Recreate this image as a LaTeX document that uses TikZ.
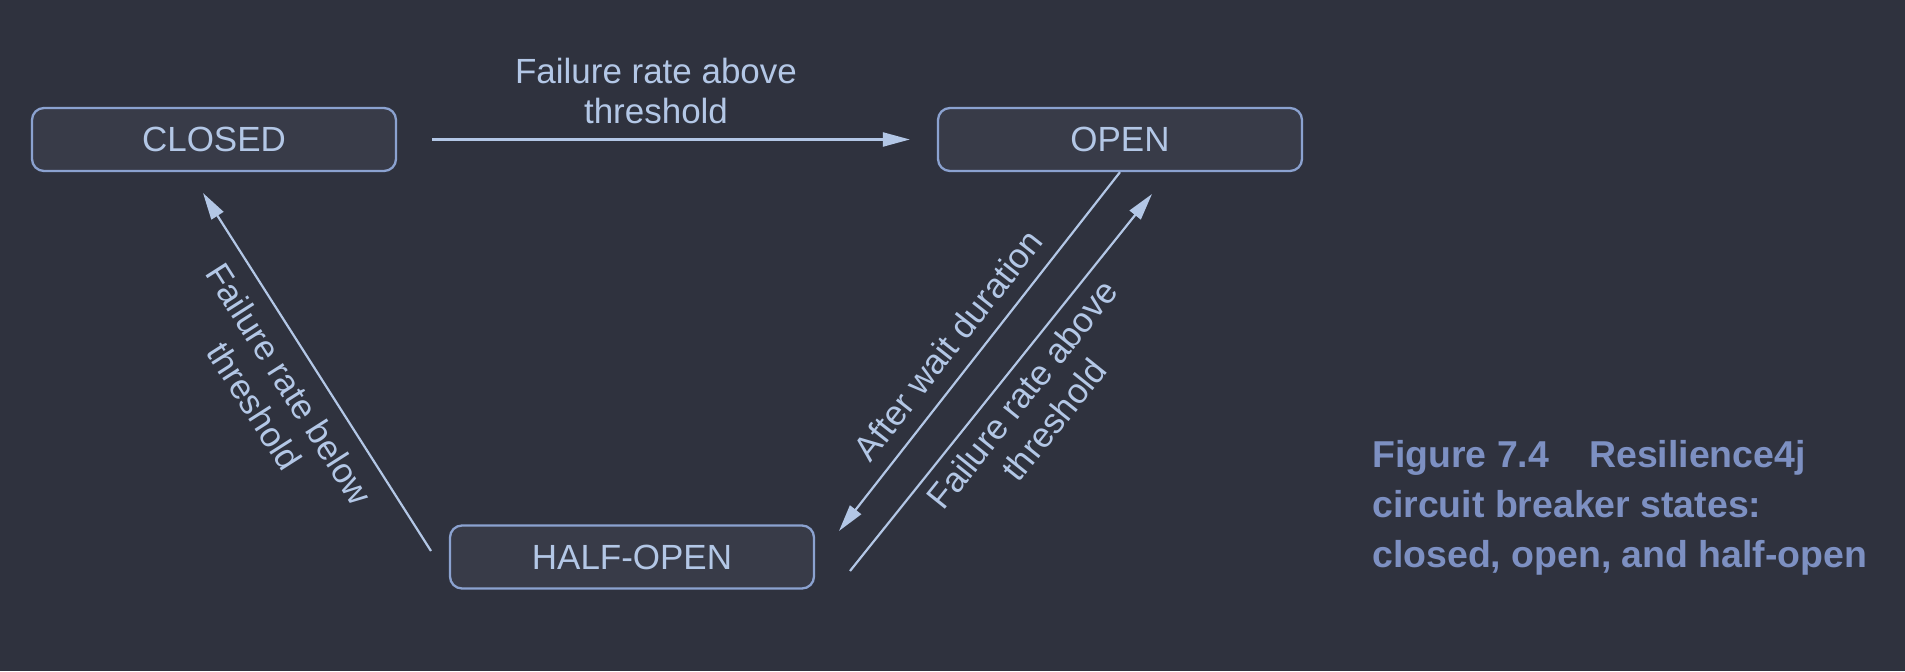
\documentclass[tikz,border=0pt]{standalone}
\usepackage{fontspec}
\setmainfont{Liberation Sans}
\usetikzlibrary{arrows.meta}
\definecolor{bgcol}{HTML}{2F323E}
\definecolor{boxcol}{HTML}{383B48}
\definecolor{linecol}{HTML}{8BA2D0}
\definecolor{txtcol}{HTML}{B3C7E6}
\definecolor{capcol}{HTML}{7D90C2}
\tikzset{state/.style={draw=linecol, fill=boxcol, line width=1.3pt, rounded corners=0.24cm,
        minimum width=7.28cm, minimum height=1.26cm, inner sep=0mm, text=txtcol,
        font=\fontsize{19.9}{23.3}\selectfont}}
\tikzset{trans/.style={draw=txtcol, line width=1.25pt, -{Triangle[length=0.54cm, width=0.28cm]}}}
\tikzset{lbl/.style={text=txtcol, align=center, inner sep=0mm, font=\fontsize{19.9}{23.3}\selectfont}}

\begin{document}
\begin{tikzpicture}
    \fill[bgcol] (0cm, 0cm) rectangle (38.1cm, 13.42cm);
    \useasboundingbox (0cm, 0cm) rectangle (38.1cm, 13.42cm);

    \node (closed) at (4.28cm, 10.63cm) [state] {CLOSED};
    \node (open) at (22.4cm, 10.63cm) [state] {OPEN};
    \node (half) at (12.64cm, 2.28cm) [state] {HALF-OPEN};

    \coordinate (halfin) at (16.78cm, 2.80cm);
    \coordinate (halfout) at (17.0cm, 2.0cm);
    \coordinate (openin) at (23.04cm, 9.54cm);
    \coordinate (closedout) at (8.62cm, 2.40cm);
    \coordinate (closedin) at (4.06cm, 9.56cm);

    \draw (closed) edge[trans, shorten <=0.7cm, shorten >=0.54cm] (open);
    \draw (open.south) edge[trans] (halfin);
    \draw (halfout) edge[trans] (openin);
    \draw (closedout) edge[trans] (closedin);

    \node (ltop) at (13.12cm, 11.6cm) [lbl] {Failure rate above\\threshold};
    \node (lwait) at (18.96cm, 6.52cm) [lbl, rotate=51.75] {After wait duration};
    \node (lagain) at (20.76cm, 5.28cm) [lbl, rotate=51.3] {Failure rate above\\threshold};
    \node (lbelow) at (5.44cm, 5.52cm) [lbl, rotate=-57.5] {Failure rate below\\threshold};

    \node (caption) at (27.44cm, 3.26cm) [anchor=west, align=left, inner sep=0mm, text=capcol,
        font=\fontsize{21.3}{28.5}\selectfont\bfseries]
        {Figure 7.4\hspace{0.8cm}Resilience4j\\circuit breaker states:\\closed, open, and half-open};
\end{tikzpicture}
\end{document}
